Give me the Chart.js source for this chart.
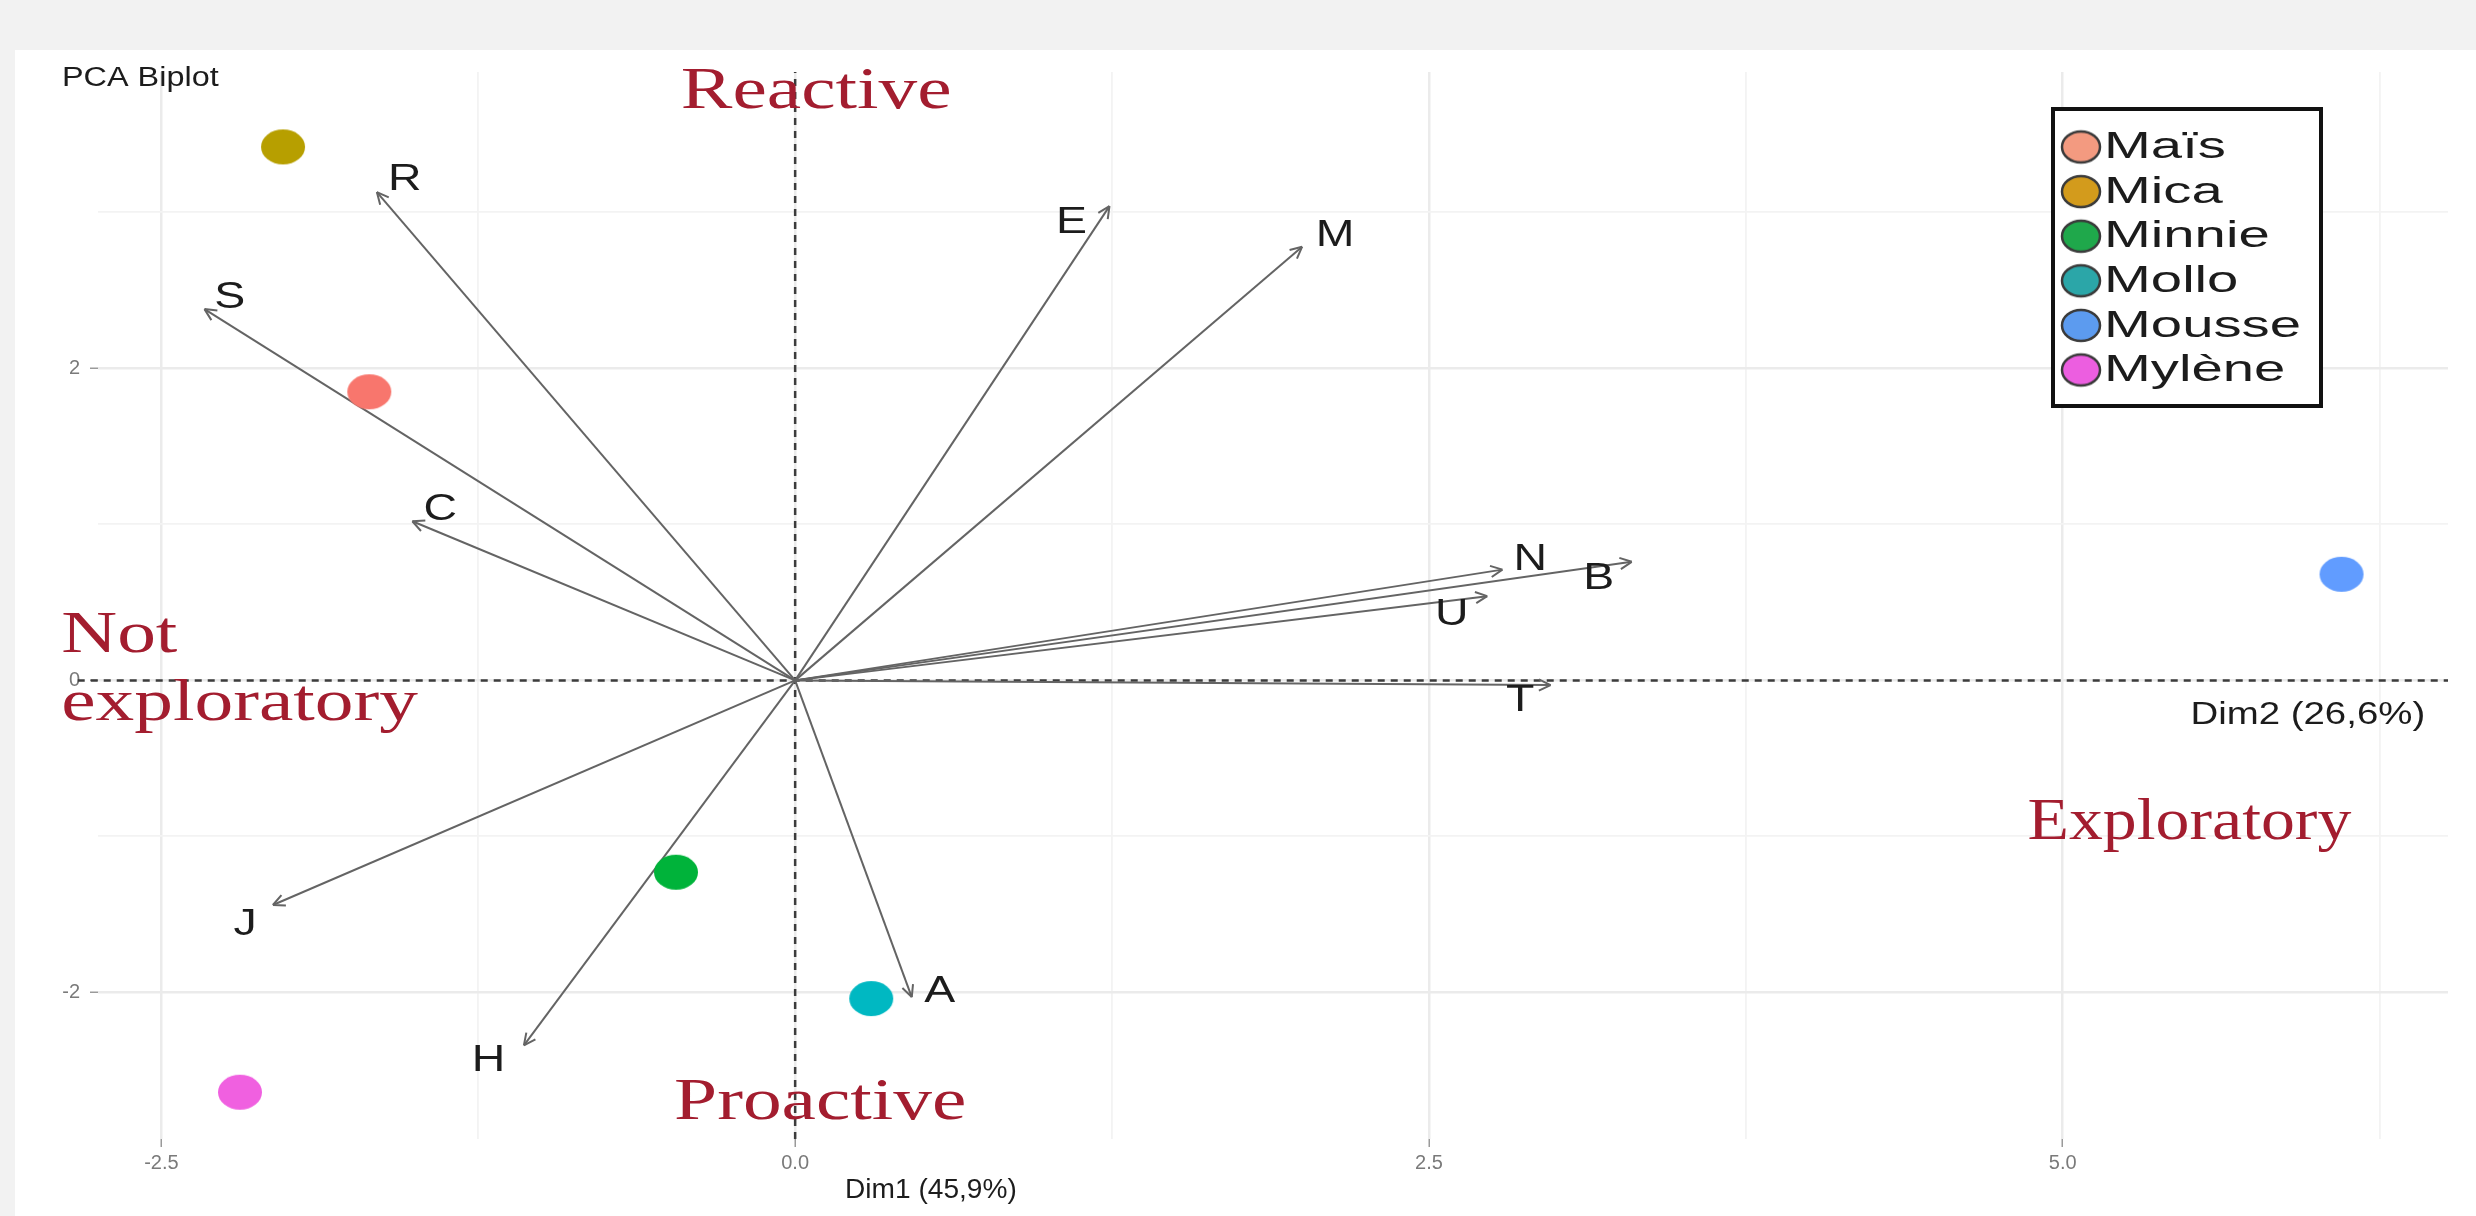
<!DOCTYPE html>
<html>
<head>
<meta charset="utf-8">
<script src="https://cdn.jsdelivr.net/npm/chart.js@4.4.1/dist/chart.umd.min.js"></script>
<style>
  html, body { margin: 0; padding: 0; background: #f2f2f2; width: 2476px; height: 1216px; overflow: hidden; }
  #panel { position: absolute; left: 15px; top: 50px; right: 0; bottom: 0; background: #ffffff; }
  #c { position: absolute; left: 0; top: 0; }
</style>
</head>
<body>
<div id="panel"></div>
<canvas id="c" width="2476" height="1216" style="width:2476px;height:1216px"></canvas>
<script>
// ---------------- DATA ----------------
const individuals = ['Maïs', 'Mica', 'Minnie', 'Mollo', 'Mousse', 'Mylène'];
const indDim1 = [-1.68, -2.02, -0.47, 0.30, 6.10, -2.19];
const indDim2 = [1.85, 3.42, -1.23, -2.04, 0.68, -2.64];

const variables = ['R', 'S', 'C', 'E', 'M', 'N', 'B', 'U', 'T', 'J', 'H', 'A'];
const varDim1 = [-1.65, -2.33, -1.51, 1.24, 2.00, 2.79, 3.30, 2.73, 2.98, -2.06, -1.07, 0.46];
const varDim2 = [3.13, 2.38, 1.02, 3.04, 2.78, 0.71, 0.76, 0.54, -0.03, -1.44, -2.34, -2.03];
const varLabelDim1 = [-1.54, -2.23, -1.40, 1.09, 2.13, 2.90, 3.17, 2.59, 2.86, -2.17, -1.21, 0.57];
const varLabelDim2 = [3.21, 2.45, 1.09, 2.93, 2.85, 0.77, 0.65, 0.42, -0.13, -1.57, -2.44, -2.00];

const zoneText = ['Reactive', 'Proactive', 'Not\nexploratory', 'Exploratory'];
const zoneDim1 = [0.083, 0.099, -2.895, 5.50];
const zoneDim2 = [3.67, -2.81, 0.18, -1.02];

const xTickValues = [-2.5, 0, 2.5, 5];
const xTickLabels = ['-2.5', '0.0', '2.5', '5.0'];
const yTickValues = [-2, 0, 2];
const yTickLabels = ['-2', '0', '2'];
const xLimits = [-2.75, 6.52];
const yLimits = [-2.94, 3.90];
const hLineStart = -2.83;

const plotTitle = 'PCA Biplot';
const axisTitles = ['Dim1 (45,9%)', 'Dim2 (26,6%)'];
const dim1TitlePos = [0.197, -3.27];
const dim2TitlePos = [6.43, -0.22];

// ---------------- STYLE ----------------
const pointColors = ['#F8766D', '#B79F00', '#00B33A', '#00B8C2', '#619CFF', '#F060E0'];
const legendColors = ['#F39A80', '#D39B1C', '#1FA84B', '#2BA6A8', '#5C9BEF', '#EC5EE0'];
const ZONE_COLOR = '#A31D2F';
const ZONE_STRETCH = [1.29, 1.29, 1.29, 1.13];
const SANS = '"Liberation Sans", Arial, sans-serif';
const SERIF = '"Liberation Serif", "Times New Roman", serif';

function ellipseSprite(color, w, h, stroke) {
  const c = document.createElement('canvas');
  c.width = w + 6; c.height = h + 6;
  const g = c.getContext('2d');
  g.beginPath();
  g.ellipse(c.width / 2, c.height / 2, w / 2, h / 2, 0, 0, Math.PI * 2);
  g.fillStyle = color;
  g.fill();
  if (stroke) { g.lineWidth = 2.5; g.strokeStyle = stroke; g.stroke(); }
  return c;
}

function stretchedText(ctx, text, x, y, font, color, align, baseline, sx) {
  ctx.save();
  ctx.translate(x, y);
  ctx.scale(sx, 1);
  ctx.font = font;
  ctx.fillStyle = color;
  ctx.textAlign = align;
  ctx.textBaseline = baseline;
  ctx.fillText(text, 0, 0);
  ctx.restore();
}

const isOn = (v, list) => list.some(t => Math.abs(t - v) < 1e-6);

// ---------------- DATASETS ----------------
const datasets = [];
individuals.forEach((name, i) => {
  datasets.push({
    label: name,
    kind: 'ind',
    data: [{ x: indDim1[i], y: indDim2[i] }],
    pointStyle: ellipseSprite(pointColors[i], 44, 35),
    pointRadius: 18,
    backgroundColor: pointColors[i],
    borderColor: pointColors[i]
  });
});
variables.forEach((name, i) => {
  datasets.push({
    label: name,
    kind: 'arrow',
    data: [{ x: 0, y: 0 }, { x: varDim1[i], y: varDim2[i] }],
    showLine: true,
    borderColor: '#646464',
    borderWidth: 2,
    pointRadius: 0
  });
});
datasets.push({
  label: 'h0', kind: 'axis',
  data: [{ x: hLineStart, y: 0 }, { x: xLimits[1], y: 0 }],
  showLine: true, borderColor: '#3c3c3c', borderWidth: 2.5, borderDash: [7, 6], pointRadius: 0,
  clip: false
});
datasets.push({
  label: 'v0', kind: 'axis',
  data: [{ x: 0, y: yLimits[0] }, { x: 0, y: yLimits[1] }],
  showLine: true, borderColor: '#3c3c3c', borderWidth: 2.5, borderDash: [7, 6], pointRadius: 0
});

// ---------------- PLUGIN ----------------
const biplotDecor = {
  id: 'biplotDecor',
  afterDatasetsDraw(chart) {
    const { ctx, scales: { x, y }, chartArea } = chart;
    // arrow heads
    chart.data.datasets.forEach((ds, i) => {
      if (ds.kind !== 'arrow') return;
      const meta = chart.getDatasetMeta(i);
      const p0 = meta.data[0], p1 = meta.data[1];
      const ang = Math.atan2(p1.y - p0.y, p1.x - p0.x);
      const L = 13, A = 0.45;
      ctx.save();
      ctx.strokeStyle = ds.borderColor;
      ctx.lineWidth = 2;
      ctx.beginPath();
      [-1, 1].forEach(s => {
        ctx.moveTo(p1.x, p1.y);
        ctx.lineTo(p1.x - L * Math.cos(ang + s * A), p1.y - L * Math.sin(ang + s * A));
      });
      ctx.stroke();
      ctx.restore();
    });
    // variable labels
    variables.forEach((name, i) => {
      stretchedText(ctx, name, x.getPixelForValue(varLabelDim1[i]), y.getPixelForValue(varLabelDim2[i]),
        '36px ' + SANS, '#1c1c1c', 'center', 'middle', 1.29);
    });
    // zone labels
    zoneText.forEach((t, i) => {
      const px = x.getPixelForValue(zoneDim1[i]);
      const py = y.getPixelForValue(zoneDim2[i]);
      const lines = t.split('\n');
      const align = lines.length > 1 ? 'left' : 'center';
      lines.forEach((ln, k) => {
        stretchedText(ctx, ln, px, py + k * 68, '60px ' + SERIF, ZONE_COLOR, align, 'alphabetic', ZONE_STRETCH[i]);
      });
    });
    // axis titles
    stretchedText(ctx, axisTitles[0], x.getPixelForValue(dim1TitlePos[0]), y.getPixelForValue(dim1TitlePos[1]),
      '27px ' + SANS, '#1c1c1c', 'left', 'middle', 1.04);
    stretchedText(ctx, axisTitles[1], x.getPixelForValue(dim2TitlePos[0]), y.getPixelForValue(dim2TitlePos[1]),
      '32px ' + SANS, '#1c1c1c', 'right', 'middle', 1.2);
    // title
    stretchedText(ctx, plotTitle, chartArea.left - 36, chartArea.top + 14,
      '27px ' + SANS, '#1c1c1c', 'left', 'alphabetic', 1.2);
    // legend
    const bx = chartArea.right - 395, by = chartArea.top + 37, bw = 268, bh = 297;
    ctx.save();
    ctx.fillStyle = '#ffffff';
    ctx.fillRect(bx, by, bw, bh);
    ctx.lineWidth = 4;
    ctx.strokeStyle = '#111111';
    ctx.strokeRect(bx, by, bw, bh);
    ctx.restore();
    individuals.forEach((name, i) => {
      const cy = by + 38 + i * 44.6;
      const spr = ellipseSprite(legendColors[i], 38, 31, '#3a3a3a');
      ctx.drawImage(spr, bx + 28 - spr.width / 2, cy - spr.height / 2);
      stretchedText(ctx, name, bx + 51, cy + 1, '37px ' + SANS, '#1c1c1c', 'left', 'middle', 1.52);
    });
  }
};

// ---------------- CHART ----------------
new Chart(document.getElementById('c'), {
  type: 'scatter',
  data: { datasets },
  plugins: [biplotDecor],
  options: {
    responsive: false,
    animation: false,
    events: [],
    layout: { padding: { top: 72, right: 28, left: 0, bottom: 0 } },
    plugins: { legend: { display: false }, tooltip: { enabled: false }, title: { display: false } },
    scales: {
      x: {
        type: 'linear',
        min: xLimits[0], max: xLimits[1],
        afterFit: s => { s.height = 77; },
        border: { display: false },
        grid: {
          color: c => isOn(c.tick.value, xTickValues) ? '#ebebeb' : '#f3f3f3',
          lineWidth: c => isOn(c.tick.value, xTickValues) ? 2.5 : 1.8,
          tickColor: c => isOn(c.tick.value, xTickValues) ? '#9a9a9a' : 'rgba(0,0,0,0)',
          tickLength: 8,
          tickWidth: 1.5
        },
        ticks: {
          stepSize: 1.25,
          includeBounds: false,
          autoSkip: false,
          maxRotation: 0,
          padding: 4,
          color: '#7a7a7a',
          font: { family: SANS, size: 20 },
          callback: v => { const k = xTickValues.findIndex(t => Math.abs(t - v) < 1e-6); return k >= 0 ? xTickLabels[k] : ''; }
        }
      },
      y: {
        type: 'linear',
        min: yLimits[0], max: yLimits[1],
        afterFit: s => { s.width = 98; },
        border: { display: false },
        grid: {
          color: c => isOn(c.tick.value, yTickValues) ? '#ebebeb' : '#f3f3f3',
          lineWidth: c => isOn(c.tick.value, yTickValues) ? 2.5 : 1.8,
          tickColor: c => isOn(c.tick.value, yTickValues) ? '#9a9a9a' : 'rgba(0,0,0,0)',
          tickLength: 8,
          tickWidth: 1.5
        },
        ticks: {
          stepSize: 1,
          includeBounds: false,
          autoSkip: false,
          padding: 10,
          color: '#7a7a7a',
          font: { family: SANS, size: 20 },
          callback: v => { const k = yTickValues.findIndex(t => Math.abs(t - v) < 1e-6); return k >= 0 ? yTickLabels[k] : ''; }
        }
      }
    }
  }
});
</script>
</body>
</html>
